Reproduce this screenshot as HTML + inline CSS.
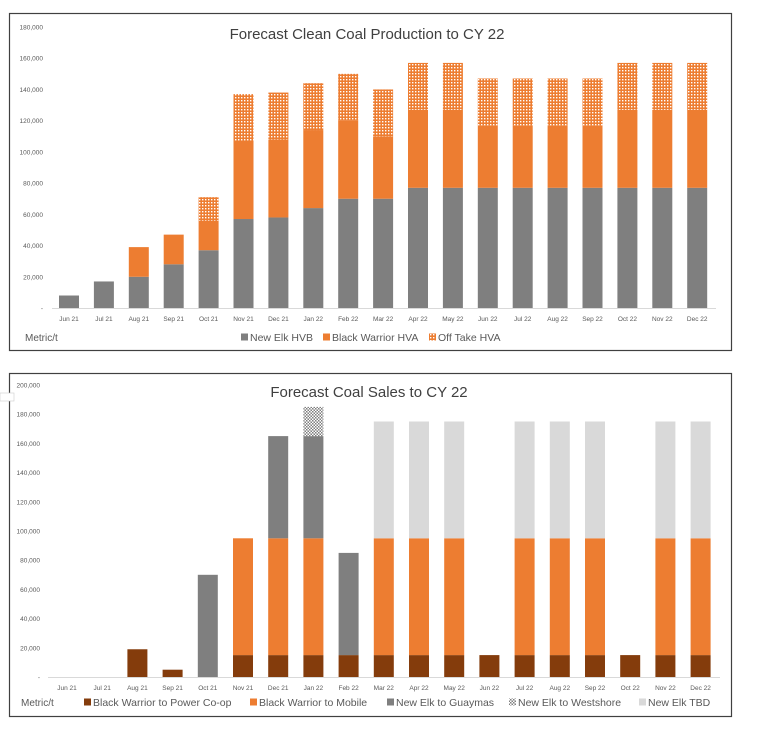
<!DOCTYPE html>
<html><head><meta charset="utf-8"><style>
html,body{margin:0;padding:0;background:#fff;}
svg{display:block;font-family:"Liberation Sans",sans-serif;}
</style></head><body>
<svg id="svg" width="758" height="730" viewBox="0 0 758 730" xmlns="http://www.w3.org/2000/svg">
<defs>
<pattern id="dotOrange" width="3" height="3" patternUnits="userSpaceOnUse">
<rect width="3" height="3" fill="#ed7d31"/><rect x="1" y="1" width="1.4" height="1.4" fill="#fff"/>
</pattern>
<pattern id="checkGray" width="3" height="3" patternUnits="userSpaceOnUse">
<rect width="3" height="3" fill="#fff"/><rect width="1.5" height="1.5" fill="#7f7f7f"/><rect x="1.5" y="1.5" width="1.5" height="1.5" fill="#7f7f7f"/>
</pattern>
</defs>
<rect x="9.5" y="13.5" width="722" height="337" fill="#fff" stroke="#404040" stroke-width="1.2"/>
<rect x="9.5" y="373.5" width="722" height="343" fill="#fff" stroke="#404040" stroke-width="1.2"/>
<rect x="0" y="393" width="14" height="8" fill="#fff" stroke="#ccc" stroke-width="0.6"/>
<text x="367" y="39" font-size="15" fill="#404040" text-anchor="middle">Forecast Clean Coal Production to CY 22</text>
<text x="369" y="397" font-size="15" fill="#404040" text-anchor="middle">Forecast Coal Sales to CY 22</text>
<g id="top"></g><g id="bot"></g>
</svg>
<script>
var categories = ["Jun 21","Jul 21","Aug 21","Sep 21","Oct 21","Nov 21","Dec 21","Jan 22","Feb 22","Mar 22","Apr 22","May 22","Jun 22","Jul 22","Aug 22","Sep 22","Oct 22","Nov 22","Dec 22"];
var prodNewElkHVB = [8000,17000,20000,28000,37000,57000,58000,64000,70000,70000,77000,77000,77000,77000,77000,77000,77000,77000,77000];
var prodBlackWarriorHVA = [0,0,19000,19000,19000,50000,50000,50000,50000,40000,50000,50000,40000,40000,40000,40000,50000,50000,50000];
var prodOffTakeHVA = [0,0,0,0,15000,30000,30000,30000,30000,30000,30000,30000,30000,30000,30000,30000,30000,30000,30000];
var prodTicks = [0,20000,40000,60000,80000,100000,120000,140000,160000,180000];
var salesBWPower = [0,0,19000,5000,0,15000,15000,15000,15000,15000,15000,15000,15000,15000,15000,15000,15000,15000,15000];
var salesBWMobile = [0,0,0,0,0,80000,80000,80000,0,80000,80000,80000,0,80000,80000,80000,0,80000,80000];
var salesGuaymas = [0,0,0,0,70000,0,70000,70000,70000,0,0,0,0,0,0,0,0,0,0];
var salesWestshore = [0,0,0,0,0,0,0,20000,0,0,0,0,0,0,0,0,0,0,0];
var salesTBD = [0,0,0,0,0,0,0,0,0,80000,80000,80000,0,80000,80000,80000,0,80000,80000];
var salesTicks = [0,20000,40000,60000,80000,100000,120000,140000,160000,180000,200000];

var NS="http://www.w3.org/2000/svg";
function mk(parent,tag,attrs){var e=document.createElementNS(NS,tag);for(var k in attrs)e.setAttribute(k,attrs[k]);parent.appendChild(e);return e;}
function fmt(v){return v===0?"-":v.toLocaleString("en-US");}

function drawChart(g,cfg){
  var y0=cfg.y0,y1=cfg.y1,maxV=cfg.max;
  function yS(v){return y0-(v/maxV)*(y0-y1);}
  function xS(i){return cfg.x0+i*cfg.step;}
  cfg.ticks.forEach(function(t){
    var tx=mk(g,"text",{x:cfg.labelX,y:yS(t)+2.5,"font-size":"6.5","fill":"#595959","text-anchor":"end"});
    tx.textContent=fmt(t);
    
    
  });
  var ax=mk(g,"line",{x1:cfg.axisL,x2:cfg.axisR,y1:y0+0.5,y2:y0+0.5,stroke:"#d9d9d9","stroke-width":"1"});
  
  
  categories.forEach(function(c,i){
    var base=0;
    cfg.series.forEach(function(s){
      var v=s.data[i];
      if(v>0){
        var r=mk(g,"rect",{x:xS(i)-10,y:yS(base+v),width:20,height:yS(base)-yS(base+v),fill:s.fill});
        
        
      }
      base+=v;
    });
    var tl=mk(g,"text",{x:xS(i),y:y0+13,"font-size":"6.5","fill":"#595959","text-anchor":"middle"});
    tl.textContent=c;
    
    
  });
  var mt=mk(g,"text",{x:cfg.metricX,y:cfg.legY+4,"font-size":"10","fill":"#595959"});
  mt.textContent="Metric/t";
  
  
  cfg.legend.forEach(function(l){
    var sw=mk(g,"rect",{x:l.x,y:cfg.legY-3.5,width:7,height:7,fill:l.fill});
    
    
    var lt=mk(g,"text",{x:l.x+9,y:cfg.legY+4,"font-size":"10.5","fill":"#595959"});
    lt.textContent=l.name;
    
    
  });
}
drawChart(document.getElementById("top"),{
  y0:308,y1:27,max:180000,x0:69,step:34.9,labelX:43,axisL:52,axisR:716,ticks:prodTicks,legY:337,metricX:25,
  series:[{data:prodNewElkHVB,fill:"#7f7f7f"},{data:prodBlackWarriorHVA,fill:"#ed7d31"},{data:prodOffTakeHVA,fill:"url(#dotOrange)"}],
  legend:[{x:241,name:"New Elk HVB",fill:"#7f7f7f"},{x:323,name:"Black Warrior HVA",fill:"#ed7d31"},{x:429,name:"Off Take HVA",fill:"url(#dotOrange)"}]
});
drawChart(document.getElementById("bot"),{
  y0:677,y1:385,max:200000,x0:67,step:35.2,labelX:40,axisL:48,axisR:720,ticks:salesTicks,legY:702,metricX:21,
  series:[{data:salesBWPower,fill:"#843c0c"},{data:salesBWMobile,fill:"#ed7d31"},{data:salesGuaymas,fill:"#7f7f7f"},{data:salesWestshore,fill:"url(#checkGray)"},{data:salesTBD,fill:"#d9d9d9"}],
  legend:[{x:84,name:"Black Warrior to Power Co-op",fill:"#843c0c"},{x:250,name:"Black Warrior to Mobile",fill:"#ed7d31"},{x:387,name:"New Elk to Guaymas",fill:"#7f7f7f"},{x:509,name:"New Elk to Westshore",fill:"url(#checkGray)"},{x:639,name:"New Elk TBD",fill:"#d9d9d9"}]
});
</script>
</body></html>
